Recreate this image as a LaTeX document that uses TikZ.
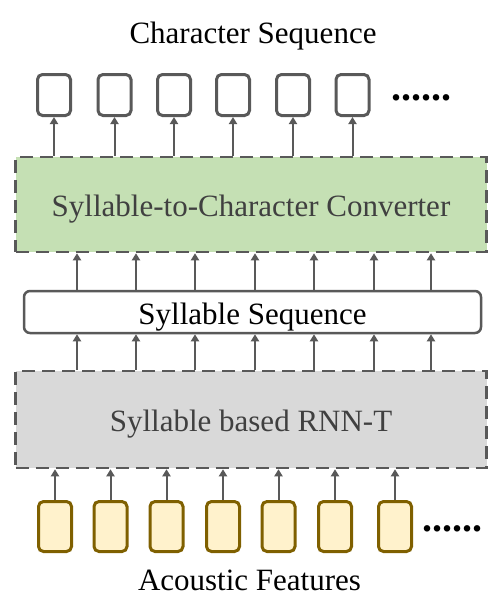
\documentclass[tikz,border=0pt]{standalone}
\usepackage{fontspec}
\setmainfont{Liberation Serif}
\usetikzlibrary{arrows.meta}
\definecolor{bord}{HTML}{595959}
\definecolor{greenf}{HTML}{C5E0B4}
\definecolor{grayf}{HTML}{D9D9D9}
\definecolor{yelf}{HTML}{FFF2CC}
\definecolor{yelb}{HTML}{7F6000}
\definecolor{txtg}{HTML}{404040}
\tikzset{
  outbox/.style={draw=bord, line width=3pt, rounded corners=5pt, fill=white, minimum width=33pt, minimum height=41pt, inner sep=0pt},
  inbox/.style={draw=yelb, line width=3pt, rounded corners=5pt, fill=yelf, minimum width=33pt, minimum height=50pt, inner sep=0pt},
  dashbox/.style={draw=bord, line width=2.5pt, dash pattern=on 13pt off 7pt, minimum width=471pt, inner sep=0pt},
  arr/.style={draw=bord, line width=2pt, -{Triangle[length=7pt,width=8pt]}},
  lbl/.style={font=\fontsize{31}{36}\selectfont, inner sep=0pt, anchor=base},
  dots/.style={font=\fontsize{40}{44}\selectfont\bfseries, inner sep=0pt, anchor=base}
}
\begin{document}
\begin{tikzpicture}[x=1pt,y=-1pt]
\useasboundingbox (0,0) rectangle (498,597);
% title
\node[lbl] (title) at (253,43) {Character Sequence};
% output boxes
\foreach \i/\x in {1/54,2/114.5,3/174,4/233,5/293,6/352.5}
  \node[outbox] (c\i) at (\x,95) {};
\node[dots] (cdots) at (421,100) {......};
% converter
\node[dashbox, fill=greenf, minimum height=95pt] (conv) at (251,204.5) {};
\node[lbl, text=txtg] (convt) at (251,216) {Syllable-to-Character Converter};
% syllable seq
\node[draw=bord, line width=2.5pt, rounded corners=6pt, fill=white, minimum width=457pt, minimum height=42pt, inner sep=0pt] (ss) at (252.5,312) {};
\node[lbl] (sst) at (252.5,324) {Syllable Sequence};
% rnnt
\node[dashbox, fill=grayf, minimum height=97pt] (rnnt) at (251,419.5) {};
\node[lbl, text=txtg] (rnntt) at (251,431) {Syllable based RNN-T};
% inputs
\foreach \i/\x in {1/55,2/110.5,3/166.5,4/223,5/278.5,6/335,7/395}
  \node[inbox] (a\i) at (\x,526.5) {};
\node[dots] (adots) at (452,531) {......};
\node[lbl] (af) at (249.5,590) {Acoustic Features};
% arrows
\foreach \i in {1,...,6}
  \draw[arr] (conv.north -| c\i.south) -- (c\i.south);
\foreach \k/\x in {1/77,2/136,3/195,4/255,5/314,6/374,7/431} {
  \coordinate (m\k) at (\x,300);
  \draw[arr] (ss.north -| m\k) -- (conv.south -| m\k);
  \draw[arr] (rnnt.north -| m\k) -- (ss.south -| m\k);
}
\foreach \i in {1,...,7}
  \draw[arr] (a\i.north) -- (rnnt.south -| a\i.north);
\end{tikzpicture}
\end{document}
